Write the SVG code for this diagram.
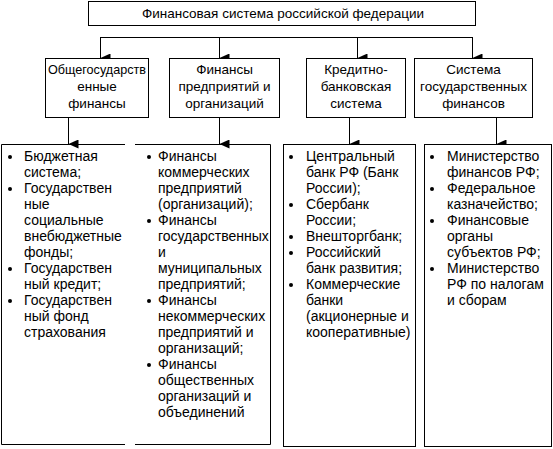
<svg xmlns="http://www.w3.org/2000/svg" width="553" height="449" viewBox="0 0 553 449">
<defs>
<style>
.b{fill:#fff;stroke:#000;stroke-width:1}
.o{fill:none;stroke:#000;stroke-width:1}
.t{font-family:"Liberation Sans",Arial,sans-serif;font-size:14px;fill:#000}
.h{font-size:13.5px}
.c{text-anchor:middle}
.d{fill:#000}
</style>
<marker id="ah" markerWidth="9" markerHeight="10" refX="4.5" refY="10" orient="auto" markerUnits="userSpaceOnUse" viewBox="0 0 9 10">
<path d="M0,0 L9,0 L4.5,10 Z" fill="#000"/>
</marker>
</defs>
<rect width="553" height="449" fill="#fff"/>
<g id="connectors">
<path class="o" d="M100,37.5 H472.5"/>
<path class="o" d="M100.5,37 V58" marker-end="url(#ah)"/>
<path class="o" d="M219.5,37 V58" marker-end="url(#ah)"/>
<path class="o" d="M357.5,37 V58" marker-end="url(#ah)"/>
<path class="o" d="M472.5,37 V58" marker-end="url(#ah)"/>
<path class="o" d="M68.5,117 V144" marker-end="url(#ah)"/>
<path class="o" d="M219.5,117 V144" marker-end="url(#ah)"/>
<path class="o" d="M349.5,117 V144" marker-end="url(#ah)"/>
<path class="o" d="M496.5,117 V144" marker-end="url(#ah)"/>
</g>
<g id="root">
<rect class="b" x="88.5" y="1.5" width="387" height="24"/>
<text class="t h c" x="283" y="18">Финансовая система российской федерации</text>
</g>
<g id="n1">
<rect class="b" x="45.5" y="58.5" width="103" height="59"/>
<text class="t h c" x="97" y="74" textLength="98" lengthAdjust="spacingAndGlyphs">Общегосударств</text>
<text class="t h c" x="97" y="91">енные</text>
<text class="t h c" x="97" y="108">финансы</text>
</g>
<g id="n2">
<rect class="b" x="169.5" y="58.5" width="110" height="59"/>
<text class="t h c" x="224.5" y="74">Финансы</text>
<text class="t h c" x="224.5" y="91">предприятий и</text>
<text class="t h c" x="224.5" y="108">организаций</text>
</g>
<g id="n3">
<rect class="b" x="306.5" y="58.5" width="99" height="59"/>
<text class="t h c" x="356" y="74">Кредитно-</text>
<text class="t h c" x="356" y="91">банковская</text>
<text class="t h c" x="356" y="108">система</text>
</g>
<g id="n4">
<rect class="b" x="414.5" y="58.5" width="118" height="59"/>
<text class="t h c" x="473.5" y="74">Система</text>
<text class="t h c" x="473.5" y="91">государственных</text>
<text class="t h c" x="473.5" y="108">финансов</text>
</g>
<g id="l1">
<path class="o" d="M125,144.5 H1.5 V444.5 H125"/>
<circle class="d" cx="10" cy="157" r="2"/>
<circle class="d" cx="10" cy="189" r="2"/>
<circle class="d" cx="10" cy="269" r="2"/>
<circle class="d" cx="10" cy="301" r="2"/>
<text class="t" x="24" y="161">Бюджетная</text>
<text class="t" x="24" y="177">система;</text>
<text class="t" x="24" y="193">Государствен</text>
<text class="t" x="24" y="209">ные</text>
<text class="t" x="24" y="225">социальные</text>
<text class="t" x="24" y="241">внебюджетные</text>
<text class="t" x="24" y="257">фонды;</text>
<text class="t" x="24" y="273">Государствен</text>
<text class="t" x="24" y="289">ный кредит;</text>
<text class="t" x="24" y="305">Государствен</text>
<text class="t" x="24" y="321">ный фонд</text>
<text class="t" x="24" y="337">страхования</text>
</g>
<g id="l2">
<path class="o" d="M135,144.5 H270.5 V444.5 H135"/>
<circle class="d" cx="149" cy="157" r="2"/>
<circle class="d" cx="149" cy="221" r="2"/>
<circle class="d" cx="149" cy="301" r="2"/>
<circle class="d" cx="149" cy="365" r="2"/>
<text class="t" x="158" y="161">Финансы</text>
<text class="t" x="158" y="177">коммерческих</text>
<text class="t" x="158" y="193">предприятий</text>
<text class="t" x="158" y="209">(организаций);</text>
<text class="t" x="158" y="225">Финансы</text>
<text class="t" x="158" y="241">государственных</text>
<text class="t" x="158" y="257">и</text>
<text class="t" x="158" y="273">муниципальных</text>
<text class="t" x="158" y="289">предприятий;</text>
<text class="t" x="158" y="305">Финансы</text>
<text class="t" x="158" y="321">некоммерческих</text>
<text class="t" x="158" y="337">предприятий и</text>
<text class="t" x="158" y="353">организаций;</text>
<text class="t" x="158" y="369">Финансы</text>
<text class="t" x="158" y="385">общественных</text>
<text class="t" x="158" y="401">организаций и</text>
<text class="t" x="158" y="417">объединений</text>
</g>
<g id="l3">
<rect class="b" x="283.5" y="144.5" width="132" height="302"/>
<circle class="d" cx="291" cy="157" r="2"/>
<circle class="d" cx="291" cy="205" r="2"/>
<circle class="d" cx="291" cy="237" r="2"/>
<circle class="d" cx="291" cy="253" r="2"/>
<circle class="d" cx="291" cy="285" r="2"/>
<text class="t" x="306" y="161">Центральный</text>
<text class="t" x="306" y="177">банк РФ (Банк</text>
<text class="t" x="306" y="193">России);</text>
<text class="t" x="306" y="209">Сбербанк</text>
<text class="t" x="306" y="225">России;</text>
<text class="t" x="306" y="241">Внешторгбанк;</text>
<text class="t" x="306" y="257">Российский</text>
<text class="t" x="306" y="273">банк развития;</text>
<text class="t" x="306" y="289">Коммерческие</text>
<text class="t" x="306" y="305">банки</text>
<text class="t" x="306" y="321">(акционерные и</text>
<text class="t" x="306" y="337">кооперативные)</text>
</g>
<g id="l4">
<rect class="b" x="424.5" y="144.5" width="127" height="302"/>
<circle class="d" cx="432" cy="157" r="2"/>
<circle class="d" cx="432" cy="189" r="2"/>
<circle class="d" cx="432" cy="221" r="2"/>
<circle class="d" cx="432" cy="269" r="2"/>
<text class="t" x="447" y="161">Министерство</text>
<text class="t" x="447" y="177">финансов РФ;</text>
<text class="t" x="447" y="193">Федеральное</text>
<text class="t" x="447" y="209">казначейство;</text>
<text class="t" x="447" y="225">Финансовые</text>
<text class="t" x="447" y="241">органы</text>
<text class="t" x="447" y="257">субъектов РФ;</text>
<text class="t" x="447" y="273">Министерство</text>
<text class="t" x="447" y="289">РФ по налогам</text>
<text class="t" x="447" y="305">и сборам</text>
</g>
</svg>
